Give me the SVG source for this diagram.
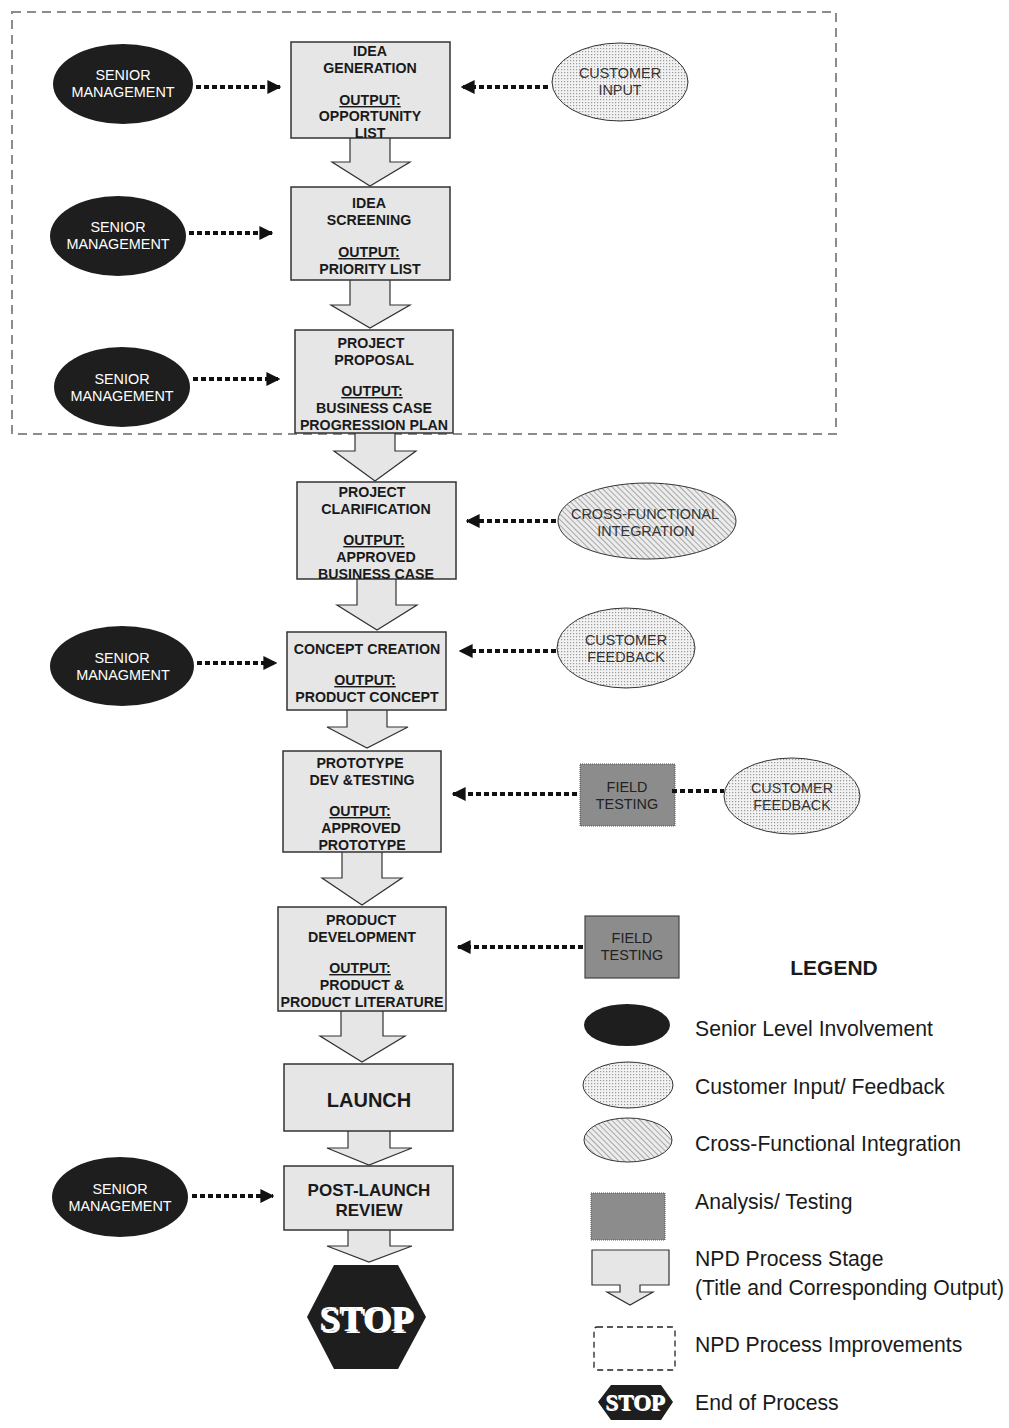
<svg xmlns="http://www.w3.org/2000/svg" width="1009" height="1428" viewBox="0 0 1009 1428">
<defs>
<pattern id="dots" width="3" height="3" patternUnits="userSpaceOnUse">
<rect width="3" height="3" fill="#f2f2f2"/>
<rect x="0" y="0" width="1.2" height="1.2" fill="#9a9a9a"/>
</pattern>
<pattern id="hatch" width="4" height="4" patternUnits="userSpaceOnUse" patternTransform="rotate(-45)">
<rect width="4" height="4" fill="#ececec"/>
<line x1="0" y1="0" x2="0" y2="4" stroke="#8a8a8a" stroke-width="1.4"/>
</pattern>
<marker id="ah" viewBox="0 0 10 10" refX="9" refY="5" markerWidth="3.5" markerHeight="3.5" orient="auto" markerUnits="strokeWidth">
<path d="M0,0 L10,5 L0,10 z" fill="#111"/>
</marker>
</defs>
<style>
.stage{fill:#e6e6e6;stroke:#333;stroke-width:1.5}
.blk{fill:#e6e6e6;stroke:#333;stroke-width:1.2}
.sm{fill:#1e1e1e}
.cust{fill:url(#dots);stroke:#333;stroke-width:1}
.cross{fill:url(#hatch);stroke:#333;stroke-width:1}
.ana{fill:#8c8c8c;stroke:#555;stroke-width:1;stroke-dasharray:1 1}
.bt{font-family:"Liberation Sans",Arial,sans-serif;font-weight:bold;font-size:14.2px;fill:#1a1a1a;text-anchor:middle}
.wt{font-family:"Liberation Sans",Arial,sans-serif;font-size:14.4px;fill:#fff;text-anchor:middle}
.dt{font-family:"Liberation Sans",Arial,sans-serif;font-size:14.4px;fill:#333;text-anchor:middle}
.lg{font-family:"Liberation Sans",Arial,sans-serif;font-size:21.2px;fill:#1a1a1a}
.con{stroke:#111;stroke-width:4;stroke-dasharray:5 3;fill:none}
.stop{font-family:"Liberation Serif","Times New Roman",serif;font-weight:bold;fill:#fff;text-anchor:middle}
</style>
<rect width="1009" height="1428" fill="#fff"/>

<!-- improvement region -->
<rect id="improvement-region" x="12" y="12" width="824" height="422" fill="none" stroke="#8c8c8c" stroke-width="2" stroke-dasharray="9 6"/>

<!-- flow block arrows -->
<g id="flow-arrows">
<polygon class="blk" points="350,137 390,137 390,162 410,162 370,186 332,162 350,162"/>
<polygon class="blk" points="350,279 390,279 390,305 410,305 370,328 331,305 350,305"/>
<polygon class="blk" points="355,432 395,432 395,451 416,451 375,481 334,451 355,451"/>
<polygon class="blk" points="357,578 396,578 396,605 417,605 377,630 337,605 357,605"/>
<polygon class="blk" points="347,709 387,709 387,727 408,727 367,748 327,727 347,727"/>
<polygon class="blk" points="342,851 382,851 382,878 402,878 362,905 322,878 342,878"/>
<polygon class="blk" points="341,1010 383,1010 383,1036 405,1036 362,1062 320,1036 341,1036"/>
<polygon class="blk" points="348,1130 390,1130 390,1148 412,1148 369,1165 327,1148 348,1148"/>
<polygon class="blk" points="348,1229 390,1229 390,1246 412,1246 369,1262 327,1246 348,1246"/>
</g>

<!-- stages -->
<g id="idea-generation">
<rect class="stage" x="291" y="42" width="159" height="96"/>
<text class="bt" x="370" y="56">IDEA</text>
<text class="bt" x="370" y="73">GENERATION</text>
<text class="bt" x="370" y="105" text-decoration="underline">OUTPUT:</text>
<text class="bt" x="370" y="121">OPPORTUNITY</text>
<text class="bt" x="370" y="138">LIST</text>
</g>
<g id="idea-screening">
<rect class="stage" x="291" y="187" width="159" height="93"/>
<text class="bt" x="369" y="208">IDEA</text>
<text class="bt" x="369" y="225">SCREENING</text>
<text class="bt" x="369" y="257" text-decoration="underline">OUTPUT:</text>
<text class="bt" x="370" y="274">PRIORITY LIST</text>
</g>
<g id="project-proposal">
<rect class="stage" x="295" y="330" width="158" height="103"/>
<text class="bt" x="371" y="348">PROJECT</text>
<text class="bt" x="374" y="365">PROPOSAL</text>
<text class="bt" x="372" y="396" text-decoration="underline">OUTPUT:</text>
<text class="bt" x="374" y="413">BUSINESS CASE</text>
<text class="bt" x="374" y="430">PROGRESSION PLAN</text>
</g>
<g id="project-clarification">
<rect class="stage" x="297" y="482" width="159" height="97"/>
<text class="bt" x="372" y="497">PROJECT</text>
<text class="bt" x="376" y="514">CLARIFICATION</text>
<text class="bt" x="374" y="545" text-decoration="underline">OUTPUT:</text>
<text class="bt" x="376" y="562">APPROVED</text>
<text class="bt" x="376" y="579">BUSINESS CASE</text>
</g>
<g id="concept-creation">
<rect class="stage" x="287" y="632" width="159" height="78"/>
<text class="bt" x="367" y="654">CONCEPT CREATION</text>
<text class="bt" x="365" y="685" text-decoration="underline">OUTPUT:</text>
<text class="bt" x="367" y="702">PRODUCT CONCEPT</text>
</g>
<g id="prototype-dev-testing">
<rect class="stage" x="283" y="751" width="158" height="101"/>
<text class="bt" x="360" y="768">PROTOTYPE</text>
<text class="bt" x="362" y="785">DEV &amp;TESTING</text>
<text class="bt" x="360" y="816" text-decoration="underline">OUTPUT:</text>
<text class="bt" x="361" y="833">APPROVED</text>
<text class="bt" x="362" y="850">PROTOTYPE</text>
</g>
<g id="product-development">
<rect class="stage" x="278" y="907" width="168" height="104"/>
<text class="bt" x="361" y="925">PRODUCT</text>
<text class="bt" x="362" y="942">DEVELOPMENT</text>
<text class="bt" x="360" y="973" text-decoration="underline">OUTPUT:</text>
<text class="bt" x="362" y="990">PRODUCT &amp;</text>
<text class="bt" x="362" y="1007">PRODUCT LITERATURE</text>
</g>
<g id="launch">
<rect class="stage" x="284" y="1064" width="169" height="67"/>
<text class="bt" x="369" y="1107" style="font-size:20px">LAUNCH</text>
</g>
<g id="post-launch-review">
<rect class="stage" x="284" y="1166" width="169" height="64"/>
<text class="bt" x="369" y="1196" style="font-size:17px">POST-LAUNCH</text>
<text class="bt" x="369" y="1216" style="font-size:17px">REVIEW</text>
</g>
<g id="stop">
<polygon fill="#1e1e1e" points="334,1265 398,1265 426,1317 398,1369 334,1369 307,1317"/>
<text class="stop" x="368" y="1333" style="font-size:36px" fill="#000">STOP</text>
<text class="stop" x="366" y="1331" style="font-size:36px">STOP</text>
</g>

<!-- inputs -->
<g id="senior-mgmt-1">
<ellipse class="sm" cx="123" cy="84" rx="70" ry="40"/>
<text class="wt" x="123" y="80">SENIOR</text>
<text class="wt" x="123" y="97">MANAGEMENT</text>
</g>
<g id="customer-input">
<ellipse class="cust" cx="620" cy="82" rx="68" ry="39"/>
<text class="dt" x="620" y="78">CUSTOMER</text>
<text class="dt" x="620" y="95">INPUT</text>
</g>
<g id="senior-mgmt-2">
<ellipse class="sm" cx="118" cy="236" rx="68" ry="40"/>
<text class="wt" x="118" y="232">SENIOR</text>
<text class="wt" x="118" y="249">MANAGEMENT</text>
</g>
<g id="senior-mgmt-3">
<ellipse class="sm" cx="122" cy="387" rx="68" ry="40"/>
<text class="wt" x="122" y="384">SENIOR</text>
<text class="wt" x="122" y="401">MANAGEMENT</text>
</g>
<g id="cross-functional">
<ellipse class="cross" cx="647" cy="521" rx="89" ry="38"/>
<text class="dt" x="645" y="519">CROSS-FUNCTIONAL</text>
<text class="dt" x="646" y="536">INTEGRATION</text>
</g>
<g id="senior-mgmt-4">
<ellipse class="sm" cx="122" cy="666" rx="72" ry="40"/>
<text class="wt" x="122" y="663">SENIOR</text>
<text class="wt" x="123" y="680">MANAGMENT</text>
</g>
<g id="customer-feedback-1">
<ellipse class="cust" cx="626" cy="648" rx="69" ry="40"/>
<text class="dt" x="626" y="645">CUSTOMER</text>
<text class="dt" x="626" y="662">FEEDBACK</text>
</g>
<g id="field-testing-1">
<rect class="ana" x="580" y="764" width="95" height="62"/>
<text class="dt" x="627" y="792" style="fill:#222">FIELD</text>
<text class="dt" x="627" y="809" style="fill:#222">TESTING</text>
</g>
<g id="customer-feedback-2">
<ellipse class="cust" cx="792" cy="796" rx="68" ry="38"/>
<text class="dt" x="792" y="793">CUSTOMER</text>
<text class="dt" x="792" y="810">FEEDBACK</text>
</g>
<g id="field-testing-2">
<rect x="585" y="916" width="94" height="62" fill="#8c8c8c" stroke="#444" stroke-width="1.2"/>
<text class="dt" x="632" y="943" style="fill:#222">FIELD</text>
<text class="dt" x="632" y="960" style="fill:#222">TESTING</text>
</g>
<g id="senior-mgmt-5">
<ellipse class="sm" cx="120" cy="1197" rx="68" ry="40"/>
<text class="wt" x="120" y="1194">SENIOR</text>
<text class="wt" x="120" y="1211">MANAGEMENT</text>
</g>

<!-- connectors -->
<g id="connectors">
<line class="con" x1="196" y1="87" x2="280" y2="87" marker-end="url(#ah)"/>
<line class="con" x1="548" y1="87" x2="462" y2="87" marker-end="url(#ah)"/>
<line class="con" x1="189" y1="233" x2="272" y2="233" marker-end="url(#ah)"/>
<line class="con" x1="193" y1="379" x2="279" y2="379" marker-end="url(#ah)"/>
<line class="con" x1="556" y1="521" x2="467" y2="521" marker-end="url(#ah)"/>
<line class="con" x1="197" y1="663" x2="276" y2="663" marker-end="url(#ah)"/>
<line class="con" x1="556" y1="651" x2="460" y2="651" marker-end="url(#ah)"/>
<line class="con" x1="577" y1="794" x2="453" y2="794" marker-end="url(#ah)"/>
<line class="con" x1="672" y1="791" x2="724" y2="791"/>
<line class="con" x1="583" y1="947" x2="458" y2="947" marker-end="url(#ah)"/>
<line class="con" x1="192" y1="1196" x2="273" y2="1196" marker-end="url(#ah)"/>
</g>

<!-- legend -->
<g id="legend">
<text x="834" y="975" style="font-family:'Liberation Sans',Arial,sans-serif;font-weight:bold;font-size:21px;fill:#1a1a1a;text-anchor:middle">LEGEND</text>
<ellipse class="sm" cx="627" cy="1025" rx="43" ry="21"/>
<text class="lg" x="695" y="1036">Senior Level Involvement</text>
<ellipse class="cust" cx="628" cy="1085" rx="45" ry="23"/>
<text class="lg" x="695" y="1094">Customer Input/ Feedback</text>
<ellipse class="cross" cx="628" cy="1140" rx="44" ry="22"/>
<text class="lg" x="695" y="1151">Cross-Functional Integration</text>
<rect class="ana" x="591" y="1193" width="74" height="47"/>
<text class="lg" x="695" y="1209">Analysis/ Testing</text>
<polygon class="blk" points="592,1250 669,1250 669,1285 640,1285 640,1292 653,1292 630,1305 607,1292 620,1292 620,1285 592,1285"/>
<text class="lg" x="695" y="1266">NPD Process Stage</text>
<text class="lg" x="695" y="1295">(Title and Corresponding Output)</text>
<rect x="594" y="1327" width="81" height="43" rx="3" fill="none" stroke="#222" stroke-width="1.3" stroke-dasharray="6 4"/>
<text class="lg" x="695" y="1352">NPD Process Improvements</text>
<polygon fill="#1e1e1e" points="611,1385 661,1385 673,1402 661,1420 611,1420 598,1402"/>
<text class="stop" x="636" y="1411" style="font-size:23px" fill="#000">STOP</text>
<text class="stop" x="635" y="1410" style="font-size:23px">STOP</text>
<text class="lg" x="695" y="1410">End of Process</text>
</g>
</svg>
